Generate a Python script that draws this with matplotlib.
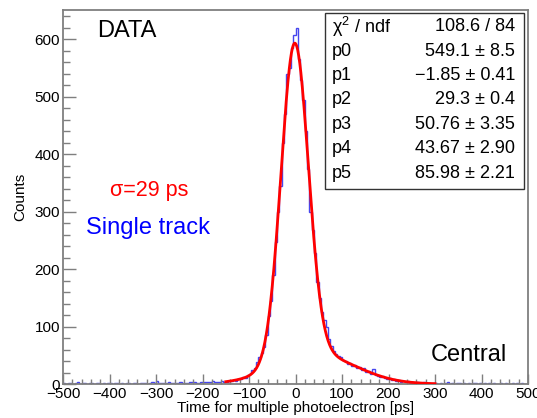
import numpy as np
import matplotlib
matplotlib.use("Agg")
import matplotlib.pyplot as plt
from matplotlib.ticker import MultipleLocator
from matplotlib.patches import Rectangle

plt.rcParams['font.family'] = ['Liberation Sans', 'DejaVu Sans']
plt.rcParams['mathtext.fontset'] = 'custom'
plt.rcParams['mathtext.rm'] = 'Liberation Sans'
plt.rcParams['mathtext.it'] = 'Liberation Sans'
plt.rcParams['mathtext.default'] = 'rm'

# ---------------- data ----------------
bin_lo, bin_hi, bin_width = -500, 500, 5

counts_left_tail = [
    1, 0, 2, 1, 0, 1, 3, 0, 1, 1,
    0, 1, 1, 0, 2, 1, 0, 1, 0, 2,
    1, 0, 1, 2, 0, 1, 0, 1, 1, 0,
    2, 1, 0, 1, 1, 2, 0, 1, 3, 1,
    5, 2, 1, 1, 2, 3, 1, 2, 1, 2,
    4, 2, 2, 1, 3, 4, 3, 2, 2, 3,
    3, 4, 4, 3, 5, 4, 3, 4, 6, 3,
]
counts_core = [
    4, 6, 5, 7, 6, 9, 8, 12, 11, 15,
    17, 24, 27, 38, 47, 54, 64, 86, 118, 145,
    190, 248, 300, 345, 420, 470, 540, 550, 585, 607,
    620, 565, 530, 495, 440, 375, 300, 268, 228, 178,
    150, 125, 112, 100, 78, 66, 58, 53, 49, 47,
    42, 40, 35, 37, 31, 33, 28, 30, 24, 27,
    21, 22, 18, 26, 15, 14, 12, 14, 10, 9,
    11, 7, 9, 5, 7, 4, 6, 3, 5, 2,
    4, 2, 3, 1, 2, 3, 1, 2, 0, 1,
]
counts_right_tail = [
    1, 0, 2, 0, 1, 3, 0, 1, 0, 1,
    2, 0, 1, 0, 1, 0, 2, 1, 0, 1,
    0, 1, 0, 2, 0, 1, 0, 0, 1, 0,
    1, 0, 0, 1, 0, 2, 0, 1, 0, 0,
]
counts = counts_left_tail + counts_core + counts_right_tail

fit_params = [549.1, -1.85, 29.3, 50.76, 43.67, 85.98]
fit_range = (-150, 300)

stat_names = ["χ$^{2}$ / ndf", "p0", "p1", "p2", "p3", "p4", "p5"]
stat_values = ["108.6 / 84", "549.1 ± 8.5", "−1.85 ± 0.41", "29.3 ± 0.4",
               "50.76 ± 3.35", "43.67 ± 2.90", "85.98 ± 2.21"]

x_label = "Time for multiple photoelectron [ps]"
y_label = "Counts"

# ---------------- figure ----------------
W, H = 537, 418
fig = plt.figure(figsize=(W / 100, H / 100), dpi=100)
ax = fig.add_axes([63 / W, 34 / H, 465 / W, 374 / H])

edges = np.arange(bin_lo, bin_hi + bin_width, bin_width)
ax.stairs(counts, edges, color='#4646ee', lw=1.0, baseline=None)

p = fit_params
xf = np.linspace(fit_range[0], fit_range[1], 600)
yf = (p[0] * np.exp(-0.5 * ((xf - p[1]) / p[2]) ** 2)
      + p[3] * np.exp(-0.5 * ((xf - p[4]) / p[5]) ** 2))
ax.plot(xf, yf, color='#ff0000', lw=2.0, zorder=3)

ax.set_xlim(-500, 500)
ax.set_ylim(0, 651)

ax.xaxis.set_major_locator(MultipleLocator(100))
ax.xaxis.set_minor_locator(MultipleLocator(20))
ax.yaxis.set_major_locator(MultipleLocator(100))
ax.yaxis.set_minor_locator(MultipleLocator(20))

gray = '#7f7f7f'
for s in ax.spines.values():
    s.set_color(gray)
    s.set_linewidth(1.3)
ax.tick_params(axis='x', which='major', direction='in', length=7, width=1,
               color=gray, labelsize=11, pad=2, top=False)
ax.tick_params(axis='x', which='minor', direction='in', length=3.6, width=1,
               color=gray, top=False)
ax.tick_params(axis='y', which='major', direction='in', length=9.5, width=1,
               color=gray, labelsize=11, pad=2, right=False)
ax.tick_params(axis='y', which='minor', direction='in', length=5, width=1,
               color=gray, right=False)

fig.text(296 / W, 1 - 408 / H, x_label, ha='center', va='center', fontsize=11)
fig.text(20 / W, 1 - 197 / H, y_label, ha='center', va='center',
         rotation=90, fontsize=11)

# annotations
fig.text(97 / W, 1 - 31 / H, "DATA", ha='left', va='center', fontsize=17)
fig.text(110 / W, 1 - 190 / H, "σ=29 ps", ha='left', va='center',
         fontsize=15.5, color='#ff0000')
fig.text(86 / W, 1 - 228 / H, "Single track", ha='left', va='center',
         fontsize=17, color='#0000ff')
fig.text(431 / W, 1 - 355 / H, "Central", ha='left', va='center', fontsize=17)

# stats box
box = Rectangle((325 / W, 1 - 189 / H), (524 - 325) / W, (189 - 13) / H,
                transform=fig.transFigure, facecolor='white',
                edgecolor='#333333', lw=1.0, zorder=5)
fig.add_artist(box)
for i, (nm, val) in enumerate(zip(stat_names, stat_values)):
    yy = 1 - (26.5 + 24.5 * i) / H
    fig.text(332 / W, yy, nm, ha='left', va='center', fontsize=13, zorder=6)
    fig.text(515 / W, yy, val, ha='right', va='center', fontsize=13, zorder=6)

fig.savefig("out.png", dpi=100)
